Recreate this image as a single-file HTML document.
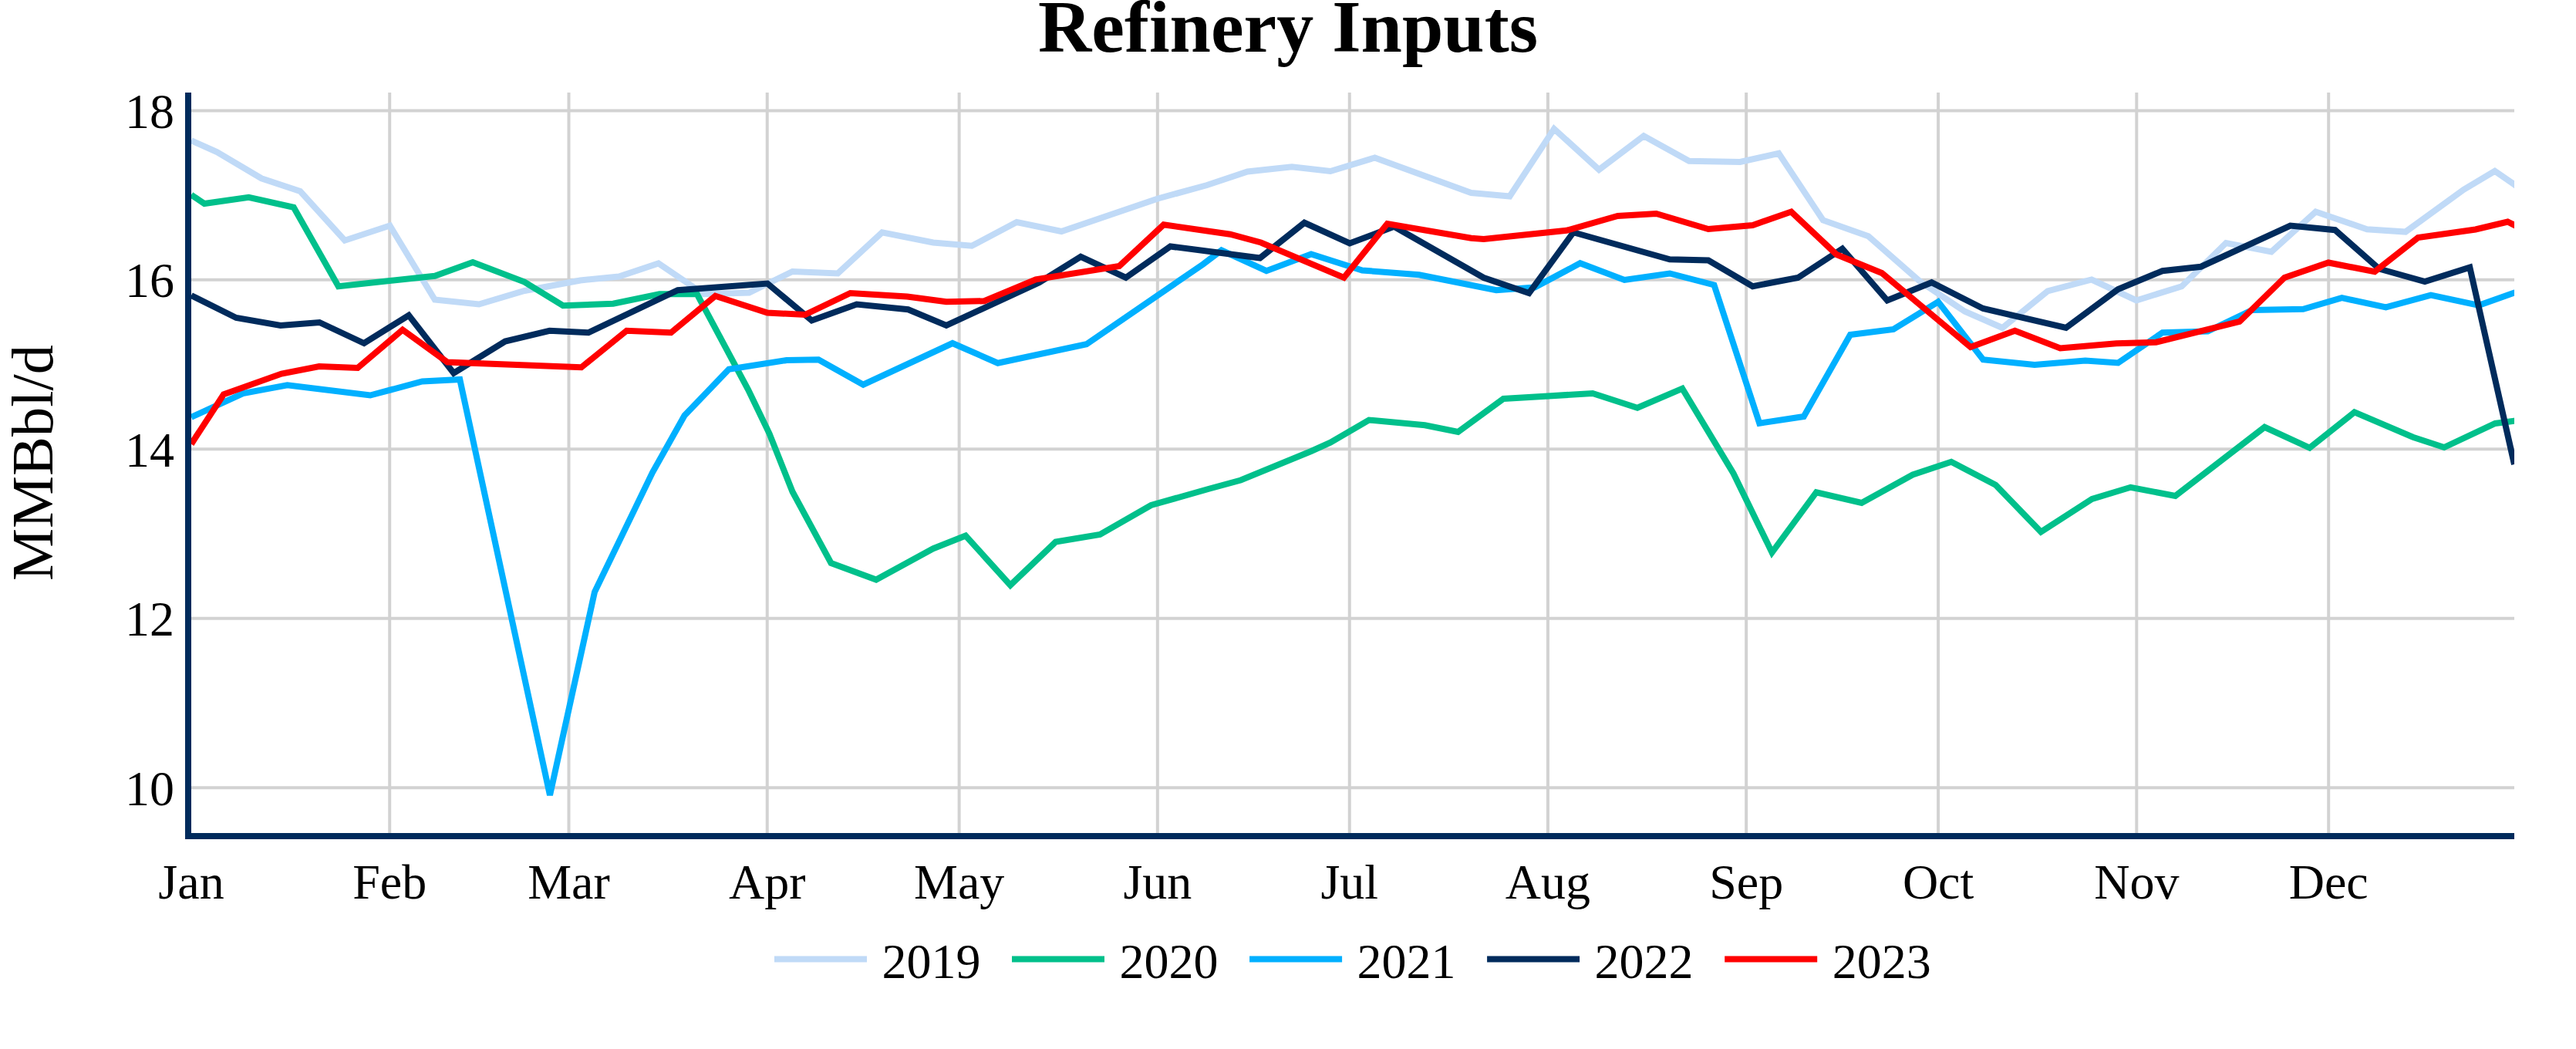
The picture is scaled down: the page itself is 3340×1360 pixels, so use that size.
<!DOCTYPE html>
<html><head><meta charset="utf-8"><title>Refinery Inputs</title>
<style>html,body{margin:0;padding:0;background:#fff;}body{width:3340px;height:1360px;overflow:hidden;}svg{display:block;}text{font-family:"Liberation Serif",serif;fill:#000;}</style></head><body>
<svg width="3340" height="1360" viewBox="0 0 3340 1360">
<rect x="0" y="0" width="3340" height="1360" fill="#fff"/>
<defs><clipPath id="pc"><rect x="248" y="120" width="3012" height="960"/></clipPath></defs>
<g stroke="#D2D2D2" stroke-width="4" fill="none">
<path d="M505.21,120V1080"/>
<path d="M737.52,120V1080"/>
<path d="M994.73,120V1080"/>
<path d="M1243.64,120V1080"/>
<path d="M1500.85,120V1080"/>
<path d="M1749.76,120V1080"/>
<path d="M2006.96,120V1080"/>
<path d="M2264.17,120V1080"/>
<path d="M2513.08,120V1080"/>
<path d="M2770.29,120V1080"/>
<path d="M3019.20,120V1080"/>
<path d="M248,143.40H3260"/>
<path d="M248,362.85H3260"/>
<path d="M248,582.30H3260"/>
<path d="M248,801.75H3260"/>
<path d="M248,1021.20H3260"/>
</g>
<g clip-path="url(#pc)" fill="none" stroke-width="8" stroke-linejoin="miter" stroke-miterlimit="2" stroke-linecap="butt">
<path d="M248,182.2 L281.25,197 L339,231.25 L389.25,248 L447,311.75 L505.5,292.5 L563.75,388.5 L621,394.5 L680,377 L752.5,363.5 L802.5,358.5 L853.75,341.5 L912.5,381.25 L971.25,379.5 L1027.5,352 L1086.25,354.5 L1143.75,301.25 L1210,314.5 L1260,318.75 L1318.25,288 L1376.25,300 L1501.25,257.5 L1565,240 L1617.5,222.5 L1675,216.25 L1725,222 L1782.5,204.5 L1907.5,250 L1957.5,254.5 L2015,167 L2073.25,220 L2131.25,176.25 L2190,208.75 L2256.25,210 L2306.25,198.75 L2363.75,285.5 L2422.5,306.25 L2489,364.5 L2547.5,403.75 L2596.25,425 L2655,377.5 L2712,362.5 L2770,389.5 L2828.75,371.25 L2886.25,315 L2945,326.5 L3002.5,274.5 L3069,297.25 L3119,300.6 L3194.4,245.8 L3234.7,221.7 L3260,239.2 L3268,245" stroke="#C0DAF7"/>
<path d="M248,252.6 L265,264 L322.5,255.75 L380.75,268.75 L438.75,371.25 L563.75,357.75 L613,340 L680,365.5 L730,396.25 L795,393.75 L855,381.25 L903.75,381.25 L970,505 L997.5,562 L1027.5,637.5 L1077.5,730 L1136,751.5 L1210,711.25 L1252,694.5 L1310,758.75 L1368.75,702.5 L1426.25,693 L1492.5,655 L1567.5,633.75 L1608.75,622.5 L1700,585 L1725,573.75 L1775,544.5 L1847.5,551.25 L1890.5,560 L1949.25,517 L2065,510 L2123,528.75 L2181.25,503.75 L2247.5,613.75 L2297.5,716.25 L2355,638.25 L2413.75,652 L2480,615.5 L2530,598.75 L2587.5,628.75 L2646.25,689.5 L2712.5,647 L2762.5,631.75 L2820.5,643 L2936.25,553.75 L2994.6,580.6 L3052.7,534.4 L3128.6,566.8 L3169,580 L3235.2,549 L3260,545.6 L3268,544.5" stroke="#00C08B"/>
<path d="M248,540.8 L315,510 L372.5,499.25 L480,512.5 L547.5,494.5 L596.25,492 L713,1031 L771,767.5 L846,612.5 L887.5,538.75 L945,478.75 L1020,467 L1061.25,466.25 L1119.25,498.75 L1235,445 L1293.75,470.75 L1408.75,446.25 L1560,342.5 L1583.75,324.5 L1642,351.25 L1700,329.5 L1766.25,350.5 L1840,356.25 L1940,376.25 L1990,372.5 L2048.75,341.25 L2106.25,363 L2165,354.5 L2222.5,369.5 L2281.25,548.75 L2338.75,540 L2399,434 L2455,427 L2513,391.25 L2571.25,466.25 L2638,473 L2703.75,467.5 L2746.25,470.5 L2803.75,431.25 L2862.5,429.5 L2920,402 L2986.25,400.75 L3036.4,386.2 L3093.5,398.4 L3151.8,382.6 L3214.1,395.8 L3260,379.6 L3268,377" stroke="#00B0FF"/>
<path d="M248,383 L306.25,412 L363.75,422 L414.25,418 L472,445 L530,408.75 L588.25,483.75 L655,442.5 L712.5,428.75 L763,431.25 L878.75,376.25 L995,367.5 L1052.5,415.5 L1110.75,394.5 L1177.5,401.25 L1227,422 L1347.5,366.25 L1401.25,332.75 L1459.75,360 L1517.5,319.5 L1633.75,334.5 L1691.25,288.75 L1750,315.5 L1807.5,293.75 L1923.75,360 L1982.5,380 L2040,301.25 L2165,336.25 L2215,337.5 L2272.5,371.25 L2331.25,360 L2388.75,322.5 L2447,389.5 L2504.5,366.25 L2571.25,400 L2678.75,425 L2746.25,375 L2803.75,351.25 L2853.75,345.75 L2969.6,292.5 L3027.6,298.2 L3084.7,348.5 L3144,365 L3202.3,346.7 L3260,602" stroke="#002B5C"/>
<path d="M248,575.7 L290,511.25 L365,484.5 L413.75,475 L463.75,477 L522,427.5 L580,469.5 L753.75,476.25 L812.5,428.75 L870,431.25 L927.5,383.75 L995,405.5 L1043.75,408 L1102.5,380 L1176.25,384.5 L1227,391.25 L1276.25,390.25 L1343,362.25 L1451.25,345 L1508.75,291.25 L1595,303.75 L1635,314.5 L1742.5,360 L1798.75,290 L1907.5,308.75 L1923.75,310 L2031.25,298.75 L2097.5,280 L2147.5,277 L2215,297 L2272.5,292 L2322.5,274.5 L2381.25,330 L2440,354 L2555,450 L2612.5,428.75 L2671.25,451.5 L2744,445.25 L2795.5,443.75 L2903.75,417 L2962,360 L3019,340.5 L3079,352.25 L3135.2,308 L3209.7,297.5 L3251.4,287.5 L3260,291.8 L3268,296" stroke="#FF0000"/>
</g>
<rect x="240" y="120" width="8" height="968" fill="#002B5C"/>
<rect x="240" y="1080" width="3020" height="8" fill="#002B5C"/>
<text x="1670" y="67" font-size="96" font-weight="bold" text-anchor="middle">Refinery Inputs</text>
<text x="226" y="165.80" font-size="64" text-anchor="end">18</text>
<text x="226" y="385.25" font-size="64" text-anchor="end">16</text>
<text x="226" y="604.70" font-size="64" text-anchor="end">14</text>
<text x="226" y="824.15" font-size="64" text-anchor="end">12</text>
<text x="226" y="1043.60" font-size="64" text-anchor="end">10</text>
<text x="248.00" y="1165" font-size="64" text-anchor="middle">Jan</text>
<text x="505.21" y="1165" font-size="64" text-anchor="middle">Feb</text>
<text x="737.52" y="1165" font-size="64" text-anchor="middle">Mar</text>
<text x="994.73" y="1165" font-size="64" text-anchor="middle">Apr</text>
<text x="1243.64" y="1165" font-size="64" text-anchor="middle">May</text>
<text x="1500.85" y="1165" font-size="64" text-anchor="middle">Jun</text>
<text x="1749.76" y="1165" font-size="64" text-anchor="middle">Jul</text>
<text x="2006.96" y="1165" font-size="64" text-anchor="middle">Aug</text>
<text x="2264.17" y="1165" font-size="64" text-anchor="middle">Sep</text>
<text x="2513.08" y="1165" font-size="64" text-anchor="middle">Oct</text>
<text x="2770.29" y="1165" font-size="64" text-anchor="middle">Nov</text>
<text x="3019.20" y="1165" font-size="64" text-anchor="middle">Dec</text>
<text transform="translate(67.6,600) rotate(-90)" font-size="76.5" text-anchor="middle">MMBbl/d</text>
<path d="M1004,1243.4h120" stroke="#C0DAF7" stroke-width="8" fill="none"/>
<text x="1143.5" y="1268.2" font-size="64">2019</text>
<path d="M1312,1243.4h120" stroke="#00C08B" stroke-width="8" fill="none"/>
<text x="1451.5" y="1268.2" font-size="64">2020</text>
<path d="M1620.1,1243.4h120" stroke="#00B0FF" stroke-width="8" fill="none"/>
<text x="1759.6" y="1268.2" font-size="64">2021</text>
<path d="M1928.1,1243.4h120" stroke="#002B5C" stroke-width="8" fill="none"/>
<text x="2067.6" y="1268.2" font-size="64">2022</text>
<path d="M2236.2,1243.4h120" stroke="#FF0000" stroke-width="8" fill="none"/>
<text x="2375.7" y="1268.2" font-size="64">2023</text>
</svg></body></html>
